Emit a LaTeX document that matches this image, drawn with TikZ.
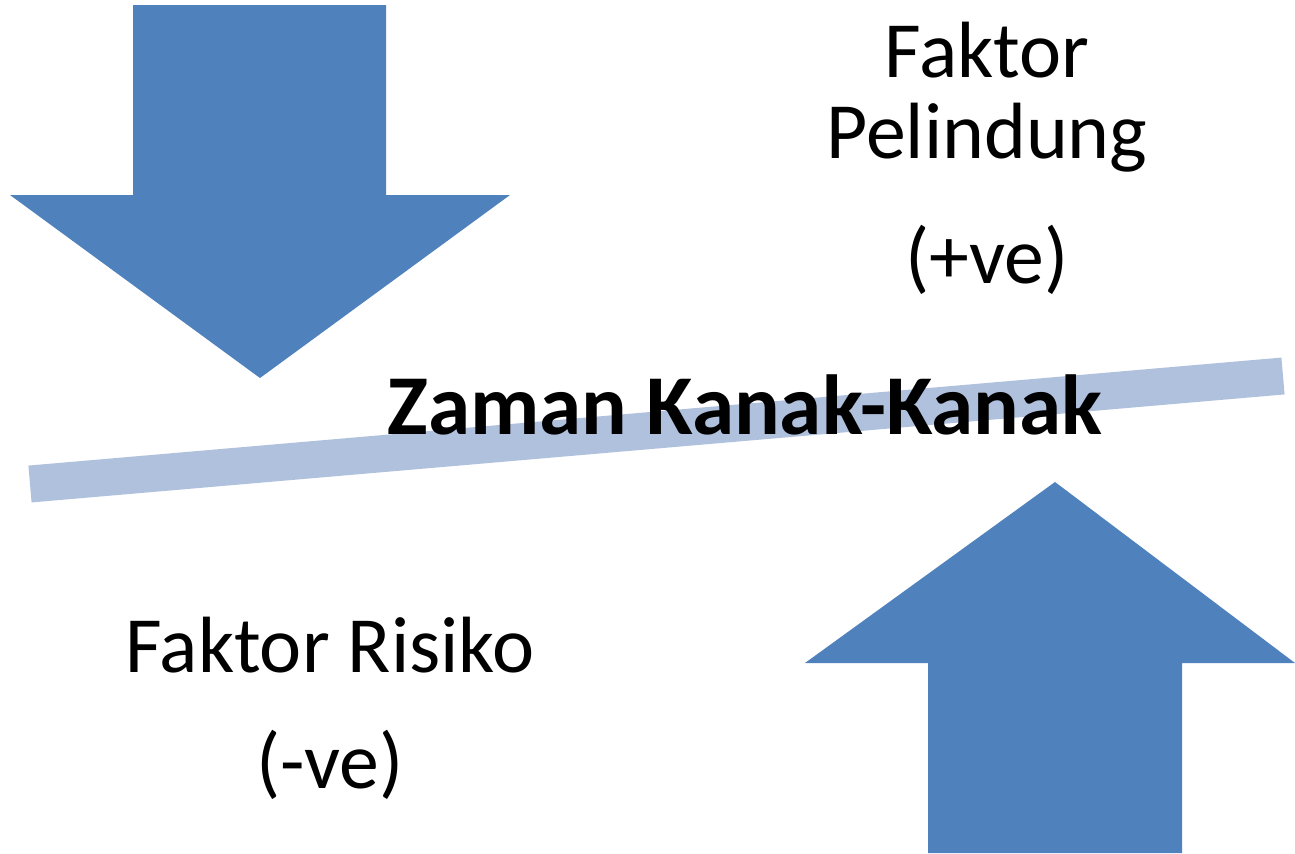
\documentclass[tikz,border=0pt]{standalone}
\usepackage{fontspec}
\setmainfont{Carlito}
\definecolor{arrowblue}{HTML}{4F81BD}
\definecolor{barblue}{HTML}{B0C1DE}
\begin{document}
\begin{tikzpicture}[x=0.02cm,y=-0.02cm,
  bigarrow/.style={fill=arrowblue,draw=none},
  lbl/.style={font=\fontsize{45.4}{54}\selectfont,inner sep=0pt,align=center}]
\useasboundingbox (0,0) rectangle (1295,853);
% bar
\draw[barblue,line width=0.74cm] (30,484) -- (1283,376);
% down arrow
\fill[bigarrow] (133,5) -- (386,5) -- (386,195) -- (510,195) -- (260,378) -- (10,195) -- (133,195) -- cycle;
% up arrow
\fill[bigarrow] (1055,482) -- (1295,663) -- (1182,663) -- (1182,853) -- (928,853) -- (928,663) -- (805,663) -- cycle;
% texts
\node[lbl] (f1) at (987,50) {Faktor};
\node[lbl] (f2) at (987,138) {Pelindung};
\node[lbl] (f3) at (987,260) {(+ve)};
\node[lbl,font=\fontsize{48.5}{58}\selectfont\bfseries] (z) at (745,405) {Zaman Kanak-Kanak};
\node[lbl] (r1) at (330,645) {Faktor Risiko};
\node[lbl] (r2) at (330,765) {(-ve)};
\end{tikzpicture}
\end{document}
